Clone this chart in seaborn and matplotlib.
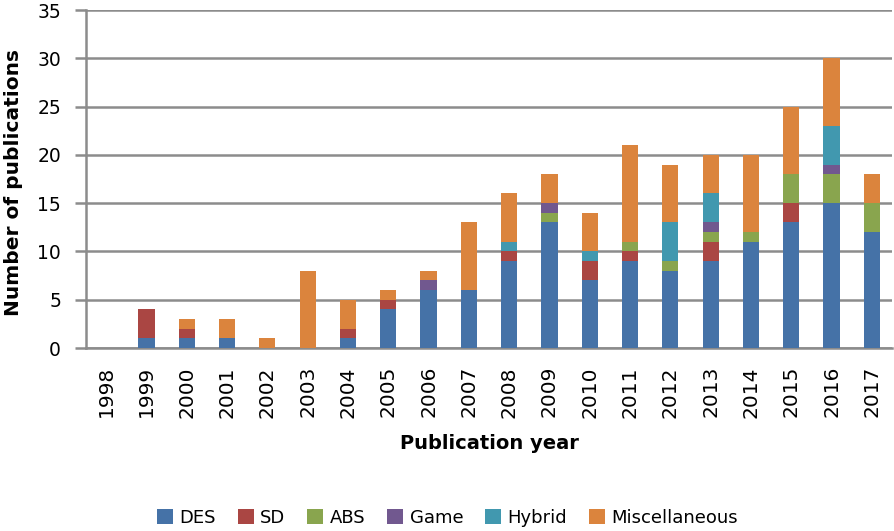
import numpy as np
import pandas as pd
import matplotlib
matplotlib.use("Agg")
import matplotlib.pyplot as plt
import seaborn as sns
from matplotlib.patches import Patch

years = [str(y) for y in range(1998, 2018)]
DES = [0, 1, 1, 1, 0, 0, 1, 4, 6, 6, 9, 13, 7, 9, 8, 9, 11, 13, 15, 12]
SD = [0, 3, 1, 0, 0, 0, 1, 1, 0, 0, 1, 0, 2, 1, 0, 2, 0, 2, 0, 0]
ABS = [0, 0, 0, 0, 0, 0, 0, 0, 0, 0, 0, 1, 0, 1, 1, 1, 1, 3, 3, 3]
Game = [0, 0, 0, 0, 0, 0, 0, 0, 1, 0, 0, 1, 0, 0, 0, 1, 0, 0, 1, 0]
Hybrid = [0, 0, 0, 0, 0, 0, 0, 0, 0, 0, 1, 0, 1, 0, 4, 3, 0, 0, 4, 0]
Misc = [0, 0, 1, 2, 1, 8, 3, 1, 1, 7, 5, 3, 4, 10, 6, 4, 8, 7, 7, 3]

series_names = ["DES", "SD", "ABS", "Game", "Hybrid", "Miscellaneous"]
series_vals = [DES, SD, ABS, Game, Hybrid, Misc]
colors = ["#4572A7", "#AA4643", "#89A54E", "#71588F", "#4198AF", "#DB843D"]

df = pd.DataFrame({"year": years})
for n, v in zip(series_names, series_vals):
    df[n] = v
cum = df[series_names].cumsum(axis=1)

sns.set_style("white")
plt.rcParams["font.family"] = ["DejaVu Sans"]
plt.rcParams["text.color"] = "black"
plt.rcParams["axes.labelcolor"] = "black"

fig = plt.figure(figsize=(8.95, 5.31), dpi=100)
ax = fig.add_axes([86 / 895, 1 - 348 / 531, 806 / 895, 338 / 531])

grid_c = "#8c8c8c"
for n, c in reversed(list(zip(series_names, colors))):
    sns.barplot(x=df["year"], y=cum[n], color=c, width=0.4, ax=ax,
                saturation=1, linewidth=0, zorder=3, order=years)

ax.set_xlim(-0.5, len(years) - 0.5)
ax.set_ylim(0, 35)
ax.set_yticks(range(0, 36, 5))
ax.yaxis.grid(True, color=grid_c, linewidth=1.8, zorder=0)
ax.set_axisbelow(True)
for s in ["top", "right"]:
    ax.spines[s].set_visible(False)
for s in ["left", "bottom"]:
    ax.spines[s].set_color(grid_c)
    ax.spines[s].set_linewidth(1.8)

ax.set_xticks(range(len(years)))
ax.set_xticklabels(years, rotation=90, fontsize=14.5)
ax.set_xticks(np.arange(-0.5, len(years), 1.0), minor=True)
ax.tick_params(axis="x", which="major", length=0, pad=13, labelcolor="black")
ax.tick_params(axis="x", which="minor", length=6, width=1.8, color=grid_c, direction="out")
ax.tick_params(axis="y", which="major", length=8, width=1.8, color=grid_c,
               direction="out", labelsize=13.5, pad=10, left=True, labelcolor="black")

ax.set_xlabel("Publication year", fontsize=14, fontweight="bold", color="black")
ax.set_ylabel("Number of publications", fontsize=14.5, fontweight="bold", color="black")
ax.xaxis.set_label_coords(0.5, (348 - 434) / 338)
ax.yaxis.set_label_coords((23 - 86) / 806, 0.49)

handles = [Patch(facecolor=c, edgecolor="none") for c in colors]
fig.legend(handles, series_names, loc="center", bbox_to_anchor=(0.5, 1 - 518 / 531), ncol=6,
           frameon=False, handlelength=0.9, handleheight=0.9, handletextpad=0.35,
           columnspacing=1.2, borderpad=0, prop={"size": 13}, labelcolor="black")

fig.savefig("out.png", dpi=100)
